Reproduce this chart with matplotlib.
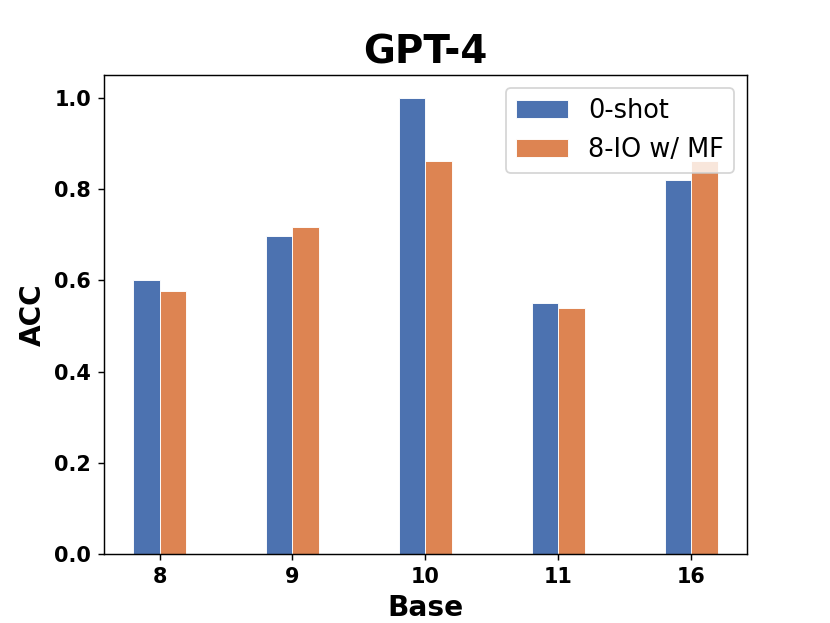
import numpy as np
import matplotlib
matplotlib.use('Agg')
import matplotlib.pyplot as plt

# data
bases = ['8', '9', '10', '11', '16']
zero_shot = [0.600, 0.698, 1.000, 0.551, 0.820]
io_mf = [0.576, 0.717, 0.862, 0.540, 0.862]
series_names = ['0-shot', '8-IO w/ MF']

fig, ax = plt.subplots(figsize=(830 / 130, 623 / 130), dpi=130)

x = np.arange(len(bases))
w = 0.2
ax.bar(x - w / 2, zero_shot, w, color='#4c72b0', edgecolor='white', linewidth=0.5, label=series_names[0])
ax.bar(x + w / 2, io_mf, w, color='#dd8452', edgecolor='white', linewidth=0.5, label=series_names[1])

ax.set_xticks(x)
ax.set_xticklabels(bases)
for lab in ax.get_xticklabels() + ax.get_yticklabels():
    lab.set_fontweight('bold')
    lab.set_fontsize(11.5)

ax.set_xlabel('Base', fontsize=15.5, fontweight='bold')
ax.set_ylabel('ACC', fontsize=15.5, fontweight='bold')
ax.set_title('GPT-4', fontsize=21.5, fontweight='bold')
ax.legend(loc='upper right', fontsize=14.2)

fig.savefig('out.png')
